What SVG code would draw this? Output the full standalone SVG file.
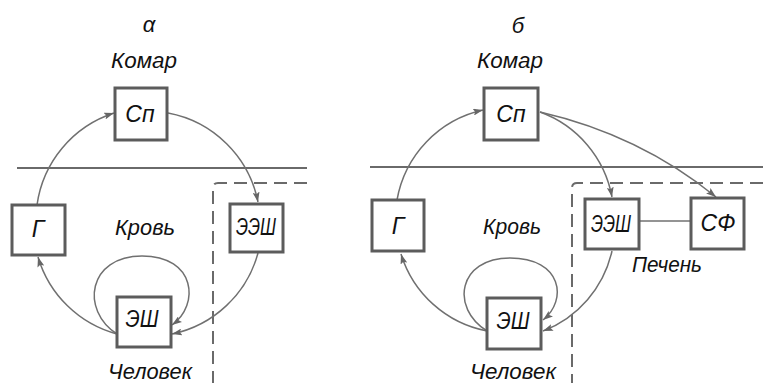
<svg xmlns="http://www.w3.org/2000/svg" width="763" height="383" viewBox="0 0 763 383">
<defs>
<marker id="arr" viewBox="0 0 10 7" refX="10" refY="3.5" markerWidth="10" markerHeight="7" markerUnits="userSpaceOnUse" orient="auto">
<path d="M0,0 L10,3.5 L0,7 L2,3.5 z" fill="#666"/>
</marker>
</defs>
<style>
.box{fill:#fff;stroke:#5c5c5c;stroke-width:3}
.lbl{font-family:"Liberation Sans","DejaVu Sans",sans-serif;font-style:italic;font-size:22px;fill:#111;text-anchor:middle}
.in{font-family:"Liberation Sans","DejaVu Sans",sans-serif;font-style:italic;font-size:23px;fill:#111;text-anchor:middle}
.con{fill:none;stroke:#707070;stroke-width:1.5}
.arrow{marker-end:url(#arr)}
.sep{stroke:#6a6a6a;stroke-width:2;fill:none}
.dash{stroke:#6a6a6a;stroke-width:2;fill:none;stroke-dasharray:13 7}
</style>
<rect width="763" height="383" fill="#fff"/>

<g id="separators">
<line class="sep" x1="17" y1="168" x2="307" y2="168"/>
<path class="dash" d="M307,183 H218 Q213,183 213,188 V383"/>
<line class="sep" x1="370" y1="167" x2="763" y2="167"/>
<path class="dash" d="M763,183 H577 Q572,183 572,188 V383"/>
</g>

<g id="titles">
<text class="lbl" x="149" y="32">α</text>
<text class="lbl" x="144" y="68" textLength="66" lengthAdjust="spacingAndGlyphs">Комар</text>
<text class="lbl" x="145" y="235" textLength="60" lengthAdjust="spacingAndGlyphs">Кровь</text>
<text class="lbl" x="150" y="379" textLength="84" lengthAdjust="spacingAndGlyphs">Человек</text>
<text class="lbl" x="518" y="33">б</text>
<text class="lbl" x="510" y="68" textLength="66" lengthAdjust="spacingAndGlyphs">Комар</text>
<text class="lbl" x="512" y="234" textLength="58" lengthAdjust="spacingAndGlyphs">Кровь</text>
<text class="lbl" x="513" y="379" textLength="86" lengthAdjust="spacingAndGlyphs">Человек</text>
<text class="lbl" x="667" y="272" textLength="70" lengthAdjust="spacingAndGlyphs">Печень</text>
</g>

<g id="connectors">
<path class="con arrow" d="M37,205 A113,113 0 0 1 114,113"/>
<path class="con arrow" d="M168,113 A113,113 0 0 1 258,202"/>
<path class="con arrow" d="M258,253 A113,113 0 0 1 172,334"/>
<path class="con arrow" d="M117,334 A113,113 0 0 1 38,257"/>
<path class="con arrow" d="M117,334 C80,310 88,256 142,256 C196,256 200,305 172,325"/>

<path class="con arrow" d="M397,200 A112,112 0 0 1 483,110"/>
<path class="con arrow" d="M540,112 A112,112 0 0 1 612,197"/>
<path class="con arrow" d="M540,112 Q640,135 716,197"/>
<path class="con arrow" d="M612,251 A112,112 0 0 1 543,331"/>
<path class="con arrow" d="M487,331 A112,112 0 0 1 401,254"/>
<path class="con arrow" d="M487,331 C450,308 458,258 510,258 C562,258 568,300 543,320"/>
<line class="con" x1="640" y1="221" x2="692" y2="221"/>
</g>

<g id="a-Sp"><rect class="box" x="115" y="88" width="52" height="52"/><text class="in" x="140" y="122">Сп</text></g>
<g id="a-G"><rect class="box" x="12" y="205" width="53" height="50"/><text class="in" x="38" y="237">Г</text></g>
<g id="a-EESh"><rect class="box" x="230" y="204" width="53" height="48"/><text class="in" x="256" y="235" textLength="40" lengthAdjust="spacingAndGlyphs">ЭЭШ</text></g>
<g id="a-ESh"><rect class="box" x="117" y="297" width="54" height="50"/><text class="in" x="142" y="327" textLength="33" lengthAdjust="spacingAndGlyphs">ЭШ</text></g>

<g id="b-Sp"><rect class="box" x="484" y="88" width="54" height="52"/><text class="in" x="511" y="122">Сп</text></g>
<g id="b-G"><rect class="box" x="372" y="200" width="52" height="51"/><text class="in" x="398" y="234">Г</text></g>
<g id="b-EESh"><rect class="box" x="585" y="199" width="54" height="50"/><text class="in" x="611" y="232" textLength="40" lengthAdjust="spacingAndGlyphs">ЭЭШ</text></g>
<g id="b-SF"><rect class="box" x="691" y="198" width="53" height="51"/><text class="in" x="718" y="231">СФ</text></g>
<g id="b-ESh"><rect class="box" x="487" y="298" width="54" height="51"/><text class="in" x="513" y="329" textLength="33" lengthAdjust="spacingAndGlyphs">ЭШ</text></g>
</svg>
